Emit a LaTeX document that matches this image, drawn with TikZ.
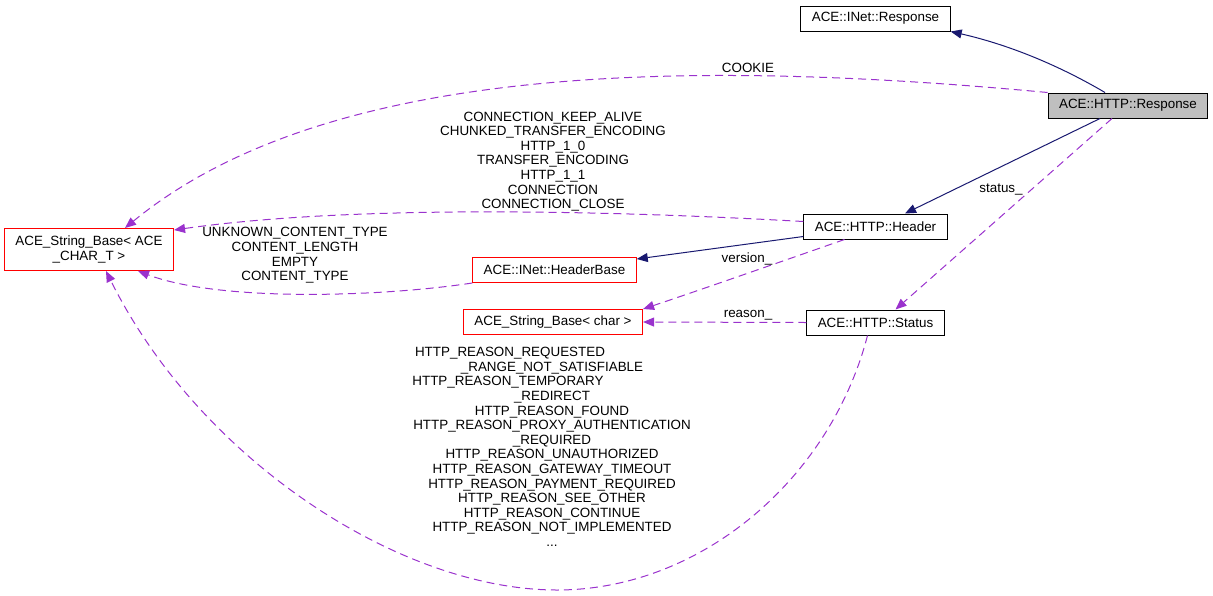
\documentclass[tikz,border=0pt]{standalone}
\usepackage{fontspec}
\setmainfont{Liberation Sans}
\usetikzlibrary{positioning,arrows.meta}
\definecolor{edgeblue}{HTML}{191970}
\definecolor{edgepurple}{HTML}{9A32CD}
\definecolor{boxgray}{HTML}{BFBFBF}

\begin{document}
\begin{tikzpicture}[x=1pt,y=-1pt,
  every node/.style={font=\fontsize{13.4}{14.6}\selectfont},
  cls/.style={draw=black,line width=1pt,minimum height=25pt,inner xsep=11pt,inner ysep=0pt},
  undoc/.style={cls,draw=red},
  focus/.style={cls,fill=boxgray},
  inherit/.style={-{Triangle[length=11pt,width=9pt]},edgeblue,line width=1pt},
  usage/.style={-{Triangle[length=11pt,width=9pt]},edgepurple,line width=1pt,dash pattern=on 8pt off 5pt},
  lbl/.style={inner sep=0pt,align=center,text=black}]
\useasboundingbox (0,0) rectangle (1213,595);
\node[cls] (inetresp) at (875.5,18.5) {ACE::INet::Response};
\node[focus] (httpresp) at (1128,105.5) {ACE::HTTP::Response};
\node[cls] (header) at (875.5,226.5) {ACE::HTTP::Header};
\node[undoc] (headerbase) at (554.5,270) {ACE::INet::HeaderBase};
\node[undoc] (strchar) at (553,322) {ACE\_String\_Base< char >};
\node[cls] (status) at (875.5,322.5) {ACE::HTTP::Status};
\node[undoc,align=center,minimum height=42pt] (strbase) at (89,249.5) {ACE\_String\_Base< ACE\\\_CHAR\_T >};

\draw[inherit] ([xshift=-23pt]httpresp.north) .. controls (1060,66) and (1010,45) .. (inetresp.south east);
\draw[inherit] ([xshift=-28pt]httpresp.south) -- ([xshift=29.5pt]header.north);
\draw[inherit] ([yshift=3pt]header.south west) -- ([yshift=-2pt]headerbase.north east);
\draw[usage] ([xshift=-16pt]httpresp.south) -- ([xshift=20pt]status.north) node[lbl] at (1001,189) {status\_};
\draw[usage] ([xshift=-31pt]header.south) .. controls (780,262) and (700,290) .. (strchar.north east) node[lbl] at (747,259) {version\_};
\draw[usage] (status.west) -- (strchar.east) node[lbl] at (748,315) {reason\_};
\draw[usage] (httpresp.north west) .. controls (700,60) and (330,60) .. ([xshift=36pt]strbase.north) node[lbl] at (748,68) {COOKIE};
\draw[usage] ([yshift=-8pt]header.north west) .. controls (600,210) and (350,205) .. ([yshift=-2pt]strbase.north east)
  node[lbl] at (553,161.5) {CONNECTION\_KEEP\_ALIVE\\CHUNKED\_TRANSFER\_ENCODING\\HTTP\_1\_0\\TRANSFER\_ENCODING\\HTTP\_1\_1\\CONNECTION\\CONNECTION\_CLOSE};
\draw[usage] (headerbase.south west) .. controls (380,297) and (220,302) .. ([xshift=49pt]strbase.south)
  node[lbl] at (295,255.5) {UNKNOWN\_CONTENT\_TYPE\\CONTENT\_LENGTH\\EMPTY\\CONTENT\_TYPE};
\draw[usage] ([xshift=-8pt]status.south) .. controls (830,480) and (700,590) .. (557,590) .. controls (400,590) and (200,460) .. ([xshift=17pt]strbase.south)
  node[lbl] at (552,447) {HTTP\_REASON\_REQUESTED\rule{84pt}{0pt}\\\_RANGE\_NOT\_SATISFIABLE\\HTTP\_REASON\_TEMPORARY\rule{88pt}{0pt}\\\_REDIRECT\\HTTP\_REASON\_FOUND\\HTTP\_REASON\_PROXY\_AUTHENTICATION\\\_REQUIRED\\HTTP\_REASON\_UNAUTHORIZED\\HTTP\_REASON\_GATEWAY\_TIMEOUT\\HTTP\_REASON\_PAYMENT\_REQUIRED\\HTTP\_REASON\_SEE\_OTHER\\HTTP\_REASON\_CONTINUE\\HTTP\_REASON\_NOT\_IMPLEMENTED\\...};
\end{tikzpicture}
\end{document}
